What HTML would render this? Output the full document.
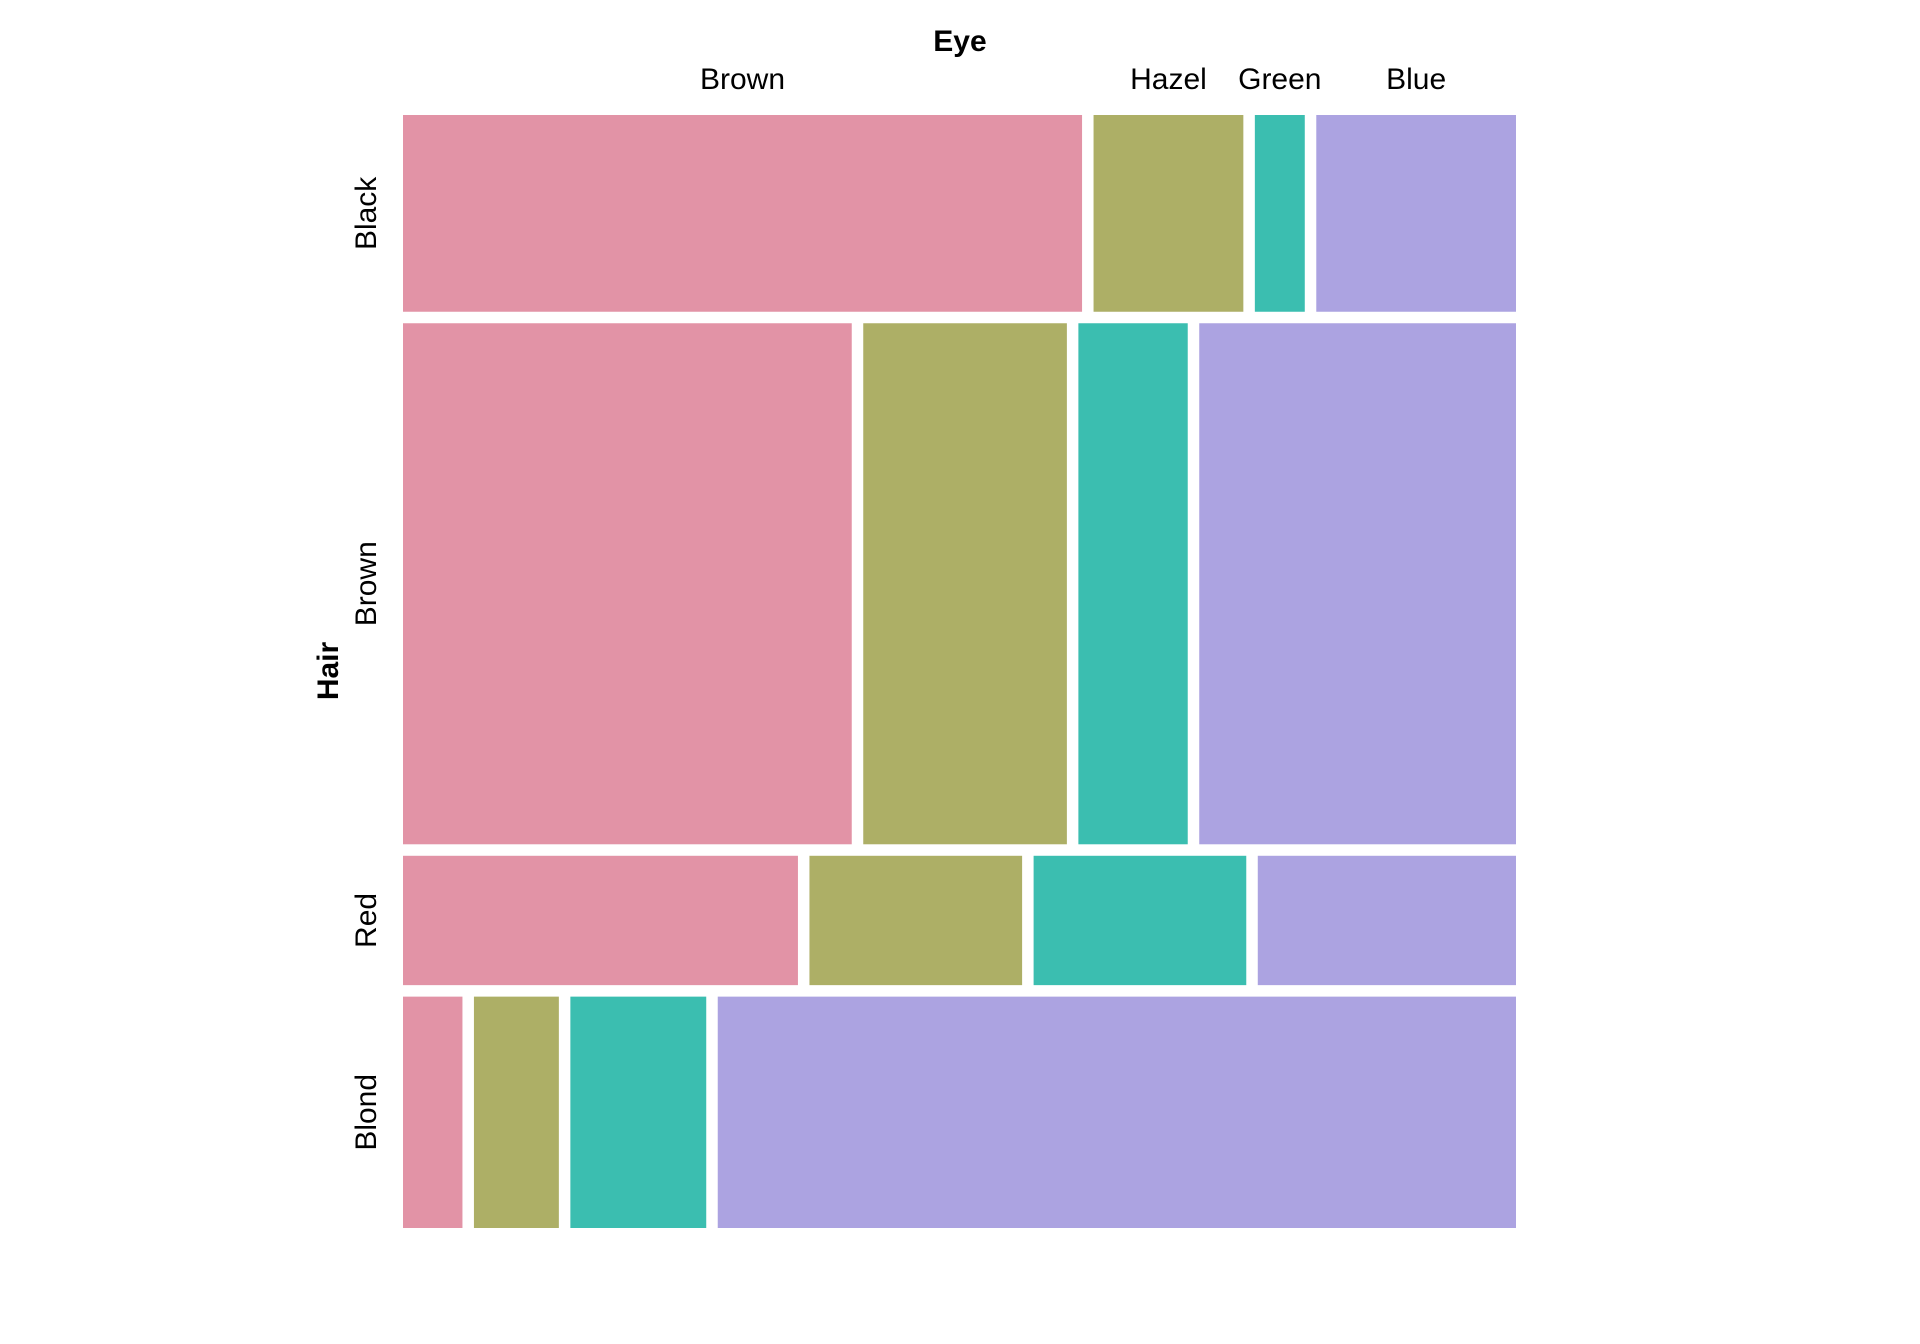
<!DOCTYPE html>
<html><head><meta charset="utf-8"><style>
html,body{margin:0;padding:0;background:#fff;}
svg{display:block;font-family:"Liberation Sans",Arial,sans-serif;}
</style></head><body>
<svg id="chart" width="1920" height="1344" viewBox="0 0 1920 1344" xmlns="http://www.w3.org/2000/svg">
<text x="960" y="51" text-anchor="middle" font-size="30" font-weight="bold">Eye</text>
<text transform="translate(338,671) rotate(-90)" text-anchor="middle" font-size="30" font-weight="bold">Hair</text>
<g id="cells"></g>
<g id="labels"></g>
</svg>
<script>
const hairLevels = ["Black","Brown","Red","Blond"];
const eyeLevels = ["Brown","Hazel","Green","Blue"];
const countsBlack = [68,15,5,20];
const countsBrown = [119,54,29,84];
const countsRed = [26,14,14,17];
const countsBlond = [7,10,16,94];
const colors = ["#E293A6","#ADAF66","#3BBEB0","#ACA3E1"];

const rows = [countsBlack,countsBrown,countsRed,countsBlond];
const NS = "http://www.w3.org/2000/svg";
const L = 403, T = 115, W = 1113, H = 1113, GAP = 11.5;
const cells = document.getElementById('cells');
const labels = document.getElementById('labels');
const rowTotals = rows.map(r => r.reduce((a,b)=>a+b,0));
const grand = rowTotals.reduce((a,b)=>a+b,0);
const availH = H - GAP*(rows.length-1);
let y = T;
rows.forEach((r, i) => {
  const h = rowTotals[i]/grand*availH;
  const availW = W - GAP*(r.length-1);
  let x = L;
  r.forEach((v, j) => {
    const w = v/rowTotals[i]*availW;
    const rect = document.createElementNS(NS,'rect');
    rect.setAttribute('x', x); rect.setAttribute('y', y);
    rect.setAttribute('width', w); rect.setAttribute('height', h);
    rect.setAttribute('fill', colors[j]);
    
    
    cells.appendChild(rect);
    if (i === 0) {
      const t = document.createElementNS(NS,'text');
      t.setAttribute('x', x + w/2); t.setAttribute('y', 89);
      t.setAttribute('text-anchor','middle'); t.setAttribute('font-size','30');
      t.textContent = eyeLevels[j];
      
      
      labels.appendChild(t);
    }
    x += w + GAP;
  });
  const t = document.createElementNS(NS,'text');
  const cy = y + h/2;
  t.setAttribute('transform', 'translate(376,' + cy + ') rotate(-90)');
  t.setAttribute('text-anchor','middle'); t.setAttribute('font-size','30');
  t.textContent = hairLevels[i];
  
  
  labels.appendChild(t);
  y += h + GAP;
});
</script>
</body></html>
